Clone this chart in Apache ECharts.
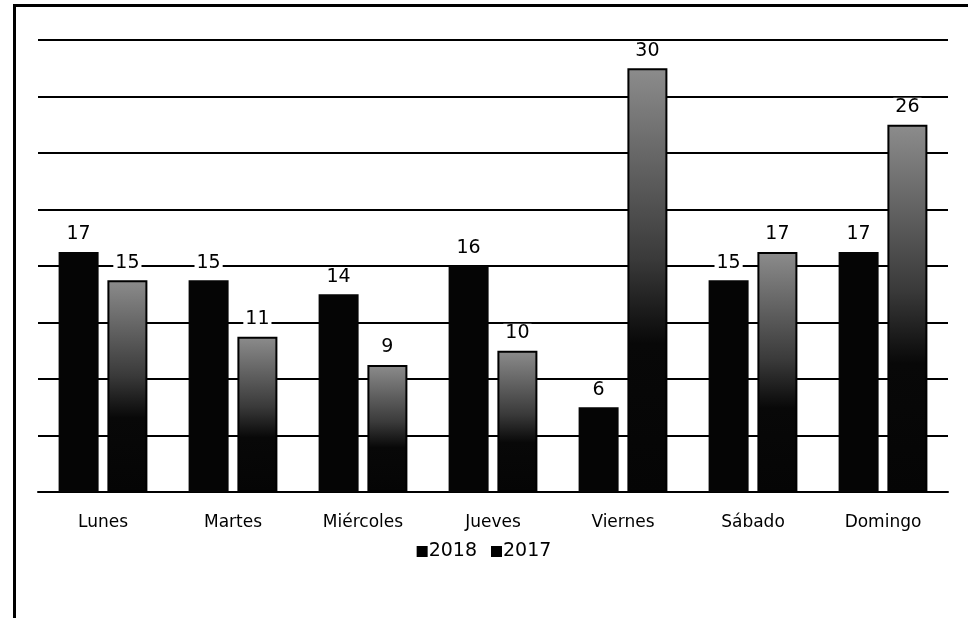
<!DOCTYPE html>
<html>
<head>
<meta charset="utf-8">
<script src="https://cdn.jsdelivr.net/npm/echarts@6/dist/echarts.min.js"></script>
<style>
  html, body { margin: 0; padding: 0; background: #fff; }
  #frame { position: absolute; left: 0; top: 0; width: 968px; height: 618px; }
  #border { position: absolute; left: 13px; top: 4px; width: 960px; height: 620px;
            border-left: 3px solid #000; border-top: 3px solid #000; }
  #main { position: absolute; left: 0; top: 0; width: 968px; height: 618px; }
</style>
</head>
<body>
<div id="frame">
  <div id="border"></div>
  <div id="main"></div>
</div>
<script>
// datos
var dias = ['Lunes', 'Martes', 'Miércoles', 'Jueves', 'Viernes', 'Sábado', 'Domingo'];
var valores2018 = [17, 15, 14, 16, 6, 15, 17];
var valores2017 = [15, 11, 9, 10, 30, 17, 26];

var chart = echarts.init(document.getElementById('main'));

var etiqueta = {
    show: true,
    position: 'top',
    distance: 8,
    color: '#000',
    fontSize: 19,
    fontFamily: 'DejaVu Sans',
    backgroundColor: '#fff',
    padding: [0, 2]
};

chart.setOption({
    animation: false,
    textStyle: { fontFamily: 'DejaVu Sans' },
    grid: {
        left: 38,
        right: 20,
        top: 40,
        bottom: 126
    },
    legend: {
        data: [
            { name: '2018', itemStyle: { color: '#000' } },
            { name: '2017', itemStyle: { color: '#000', borderWidth: 0 } }
        ],
        bottom: 52,
        left: 'center',
        icon: 'rect',
        itemWidth: 11,
        itemHeight: 11,
        itemGap: 14,
        textStyle: { color: '#000', fontSize: 19, padding: [0, 0, 0, -4] }
    },
    xAxis: {
        type: 'category',
        data: dias,
        axisLine: { lineStyle: { color: '#000', width: 2 } },
        axisTick: { show: false },
        axisLabel: { color: '#000', fontSize: 17, margin: 22 }
    },
    yAxis: {
        type: 'value',
        min: 0,
        max: 32,
        interval: 4,
        axisLabel: { show: false },
        axisLine: { show: false },
        axisTick: { show: false },
        splitLine: { lineStyle: { color: '#000', width: 2 } }
    },
    series: [
        {
            name: '2018',
            type: 'bar',
            data: valores2018,
            barWidth: 40,
            barGap: '22%',
            itemStyle: { color: '#050505' },
            label: etiqueta
        },
        {
            name: '2017',
            type: 'bar',
            data: valores2017,
            barWidth: 40,
            itemStyle: {
                color: new echarts.graphic.LinearGradient(0, 0, 0, 1, [
                    { offset: 0, color: '#8c8c8c' },
                    { offset: 0.45, color: '#3a3a3a' },
                    { offset: 0.65, color: '#080808' },
                    { offset: 1, color: '#050505' }
                ]),
                borderColor: '#000',
                borderWidth: 2
            },
            label: etiqueta
        }
    ]
});
</script>
</body>
</html>
